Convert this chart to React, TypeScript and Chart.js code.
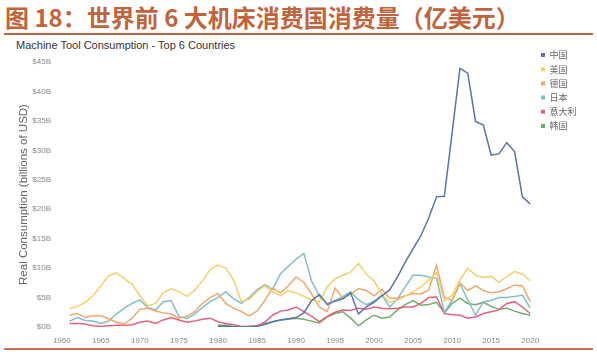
import React, { useEffect, useRef } from "react";
import { Chart, registerables } from "chart.js";

Chart.register(...registerables);

const titleText = "图 18：世界前 6 大机床消费国消费量（亿美元）";
const subtitleText = "Machine Tool Consumption - Top 6 Countries";
const yAxisTitle = "Real Consumption (billions of USD)";

const years = [
  1961, 1962, 1963, 1964, 1965, 1966, 1967, 1968, 1969, 1970,
  1971, 1972, 1973, 1974, 1975, 1976, 1977, 1978, 1979, 1980,
  1981, 1982, 1983, 1984, 1985, 1986, 1987, 1988, 1989, 1990,
  1991, 1992, 1993, 1994, 1995, 1996, 1997, 1998, 1999, 2000,
  2001, 2002, 2003, 2004, 2005, 2006, 2007, 2008, 2009, 2010,
  2011, 2012, 2013, 2014, 2015, 2016, 2017, 2018, 2019, 2020,
];

const xTickYears = [1960, 1965, 1970, 1975, 1980, 1985, 1990, 1995, 2000, 2005, 2010, 2015, 2020];
const yTickValues = [0, 5, 10, 15, 20, 25, 30, 35, 40, 45];

const seriesNames = ["中国", "美国", "德国", "日本", "意大利", "韩国"];
const seriesColors = ["#5a74aa", "#f4cf6a", "#f1a76c", "#80bec8", "#e6617f", "#72ad68"];

const china = [
  null, null, null, null, null, null, null, null, null, null,
  null, null, null, null, null, null, null, null, null, 0.1,
  0.1, 0.05, 0.05, 0.05, 0.1, 0.4, 0.9, 1.2, 1.4, 1.6,
  2.4, 4.5, 5.5, 3.8, 4.4, 4.8, 5.8, 2.2, 3.4, 4.2,
  5.3, 6.3, 8.5, 11.0, 13.3, 15.5, 18.5, 22.1, 22.2, 33.0,
  43.9, 43.1, 34.9, 34.3, 29.2, 29.4, 31.3, 29.8, 22.1, 20.9,
];

const usa = [
  3.1, 3.5, 4.2, 5.3, 7.0, 8.7, 9.2, 8.2, 7.3, 5.3,
  3.6, 4.0, 5.8, 6.5, 6.0, 5.2, 6.2, 7.8, 9.8, 10.5,
  10.0, 8.0, 4.3, 4.7, 6.0, 7.0, 6.0, 5.3, 6.2, 5.8,
  5.2, 4.6, 4.3, 6.8, 8.2, 8.8, 9.3, 10.8, 9.0, 7.8,
  5.5, 4.2, 4.6, 5.2, 6.0, 6.8, 8.0, 9.2, 4.4, 5.4,
  8.0, 10.0, 8.8, 8.4, 8.6, 7.6, 8.6, 9.4, 9.0, 7.8,
];

const germany = [
  2.0, 2.3, 1.6, 1.9, 1.9, 1.4, 0.8, 0.5, 1.5, 3.0,
  3.2, 2.7, 2.4, 2.2, 1.5, 1.8, 2.6, 4.0, 5.0, 5.7,
  4.0, 3.2, 2.6, 1.9, 2.7, 4.5, 6.6, 5.8, 7.0, 8.5,
  7.6, 5.6, 3.4, 2.6, 6.6, 4.9, 5.6, 6.5, 6.2, 5.3,
  6.4, 4.9, 4.9, 5.3, 5.7, 5.6, 6.3, 10.5, 5.0, 4.5,
  7.5, 6.2, 7.0, 6.2, 5.8, 6.0, 6.5, 7.1, 7.0, 4.3,
];

const japan = [
  1.0, 1.6, 1.1, 1.0, 0.6, 1.0, 2.2, 3.2, 4.0, 4.6,
  3.3, 2.9, 4.3, 4.5, 1.8, 1.4, 2.2, 3.3, 4.3, 5.0,
  6.0, 4.8, 4.0, 5.0, 6.3, 7.2, 6.4, 9.0, 10.3, 11.5,
  12.5, 7.8, 5.2, 4.0, 4.5, 5.2, 6.0, 4.6, 3.8, 4.4,
  5.4, 3.4, 4.8, 6.8, 8.8, 8.8, 8.5, 8.3, 2.5, 4.5,
  7.3, 4.6, 2.0, 4.3, 4.5, 5.0, 5.0, 5.2, 5.4, 3.2,
];

const italy = [
  0.6, 0.6, 0.5, 0.2, 0.1, 0.2, 0.3, 0.3, 0.4, 0.8,
  1.0, 0.6, 1.2, 1.6, 1.2, 0.8, 1.0, 1.3, 1.5, 0.9,
  0.6, 0.4, 0.1, 0.1, 0.2, 0.8, 2.0, 2.7, 2.9, 3.4,
  2.6, 1.8, 0.9, 1.8, 2.5, 2.9, 2.8, 3.2, 3.0, 3.4,
  3.2, 3.1, 3.2, 3.4, 3.4, 4.0, 5.0, 5.1, 2.3, 2.1,
  2.0, 1.5, 1.7, 2.3, 2.6, 2.9, 4.0, 4.3, 3.4, 2.3,
];

const korea = [
  null, null, null, null, null, null, null, null, null, null,
  null, null, null, null, null, null, null, null, null, 0.3,
  0.3, 0.1, 0.0, 0.1, 0.2, 0.6, 0.9, 1.2, 1.3, 1.5,
  1.3, 1.0, 0.7, 1.7, 2.3, 2.6, 1.5, 0.2, 1.2, 2.0,
  1.5, 1.7, 2.9, 3.8, 4.5, 3.7, 3.8, 4.2, 2.4, 4.0,
  4.9, 4.0, 3.8, 4.2, 3.5, 3.0, 3.2, 2.7, 2.3, 2.0,
];

const allSeries = [china, usa, germany, japan, italy, korea];

const CANVAS_W = 597;
const CANVAS_H = 356;
const AREA_RIGHT = 538;
const LEG_LEFT = 535.8;
const LEG_TOP = 45.3;
const LEG_FONT_SIZE = 9;
const LEG_FONT = "'Noto Sans CJK SC', sans-serif";
const LEG_PAD = 5.2;
const LEG_BOX = 4;

const legendPlacer = {
  id: "legendPlacer",
  afterLayout(chart: any) {
    const lg = chart.legend;
    if (!lg) return;
    const w = lg.width;
    const h = lg.height;
    lg.left = LEG_LEFT;
    lg.right = LEG_LEFT + w;
    lg.top = LEG_TOP;
    lg.bottom = LEG_TOP + h;
  },
};

export default function App() {
  const canvasRef = useRef<HTMLCanvasElement | null>(null);

  useEffect(() => {
    const canvas = canvasRef.current;
    if (!canvas) return;
    const mctx = canvas.getContext("2d");
    let maxText = 27;
    if (mctx) {
      mctx.font = `${LEG_FONT_SIZE}px ${LEG_FONT}`;
      maxText = Math.max(...seriesNames.map((n) => mctx.measureText(n).width));
    }
    const legendWidth = LEG_PAD + LEG_BOX + LEG_FONT_SIZE / 2 + maxText + 10;
    const rightPad = Math.max(0, CANVAS_W - AREA_RIGHT - legendWidth);

    const datasets = seriesNames.map((name, si) => ({
      label: name,
      data: years.map((yr, i) => ({ x: yr, y: allSeries[si][i] })),
      borderColor: seriesColors[si],
      backgroundColor: seriesColors[si],
      borderWidth: 1.5,
      pointRadius: 0,
      pointHoverRadius: 0,
      tension: 0,
      spanGaps: false,
      fill: false,
    }));

    const chart = new Chart(canvas, {
      type: "line",
      data: { datasets },
      options: {
        responsive: false,
        animation: false,
        devicePixelRatio: 1,
        layout: { padding: { top: 62, left: 0, right: rightPad, bottom: 0 } },
        plugins: {
          tooltip: { enabled: false },
          title: { display: false },
          legend: {
            display: true,
            position: "right",
            align: "start",
            labels: {
              boxWidth: LEG_BOX,
              boxHeight: LEG_BOX,
              padding: LEG_PAD,
              color: "#666",
              font: { size: LEG_FONT_SIZE, family: LEG_FONT },
              generateLabels: (c: any) =>
                Chart.defaults.plugins.legend.labels
                  .generateLabels(c)
                  .map((it: any) => ({ ...it, lineWidth: 0 })),
            },
          },
        },
        scales: {
          x: {
            type: "linear",
            min: 1959,
            max: 2021,
            afterBuildTicks: (axis: any) => {
              axis.ticks = xTickYears.map((v) => ({ value: v }));
            },
            afterFit: (axis: any) => {
              axis.height = 29;
            },
            grid: { display: false, drawTicks: false },
            border: { display: false },
            ticks: {
              autoSkip: false,
              maxRotation: 0,
              padding: 8.5,
              color: "#8a8a8a",
              font: { size: 8, family: "'Liberation Sans', Arial, sans-serif" },
              callback: (v: any) => String(v),
            },
          },
          y: {
            type: "linear",
            min: 0,
            max: 45,
            afterBuildTicks: (axis: any) => {
              axis.ticks = yTickValues.map((v) => ({ value: v }));
            },
            afterFit: (axis: any) => {
              axis.width = 54;
            },
            grid: { display: false, drawTicks: false },
            border: { display: false },
            ticks: {
              padding: 3,
              color: "#8a8a8a",
              font: { size: 8, family: "'Liberation Sans', Arial, sans-serif" },
              callback: (v: any) => `$${v}B`,
            },
            title: {
              display: true,
              text: yAxisTitle,
              color: "#666",
              padding: { top: 16.5, bottom: 0 },
              font: { size: 11.5, family: "'Liberation Sans', Arial, sans-serif" },
            },
          },
        },
      },
      plugins: [legendPlacer],
    });
    return () => chart.destroy();
  }, []);

  return (
    <div
      style={{
        position: "fixed",
        left: 0,
        top: 0,
        width: CANVAS_W,
        height: CANVAS_H,
        background: "#fff",
        overflow: "hidden",
      }}
    >
      <div
        style={{
          position: "absolute",
          left: 5,
          top: 2,
          whiteSpace: "nowrap",
          fontFamily: "'Noto Sans CJK SC', sans-serif",
          fontWeight: 700,
          fontSize: 24,
          lineHeight: "30px",
          color: "#c0643c",
        }}
      >
        {titleText}
      </div>
      <div
        style={{
          position: "absolute",
          left: 4,
          width: 589,
          top: 33,
          height: 2,
          background: "#c0643c",
        }}
      />
      <div
        style={{
          position: "absolute",
          left: 16,
          top: 38,
          whiteSpace: "nowrap",
          fontFamily: "'Liberation Sans', Arial, sans-serif",
          fontSize: 11,
          lineHeight: "14px",
          color: "#333",
        }}
      >
        {subtitleText}
      </div>
      <canvas
        ref={canvasRef}
        width={CANVAS_W}
        height={CANVAS_H}
        style={{ position: "absolute", left: 0, top: 0, width: CANVAS_W, height: CANVAS_H }}
      />
      <div
        style={{
          position: "absolute",
          left: 4,
          width: 589,
          top: 348,
          height: 2,
          background: "#c87050",
        }}
      />
    </div>
  );
}
